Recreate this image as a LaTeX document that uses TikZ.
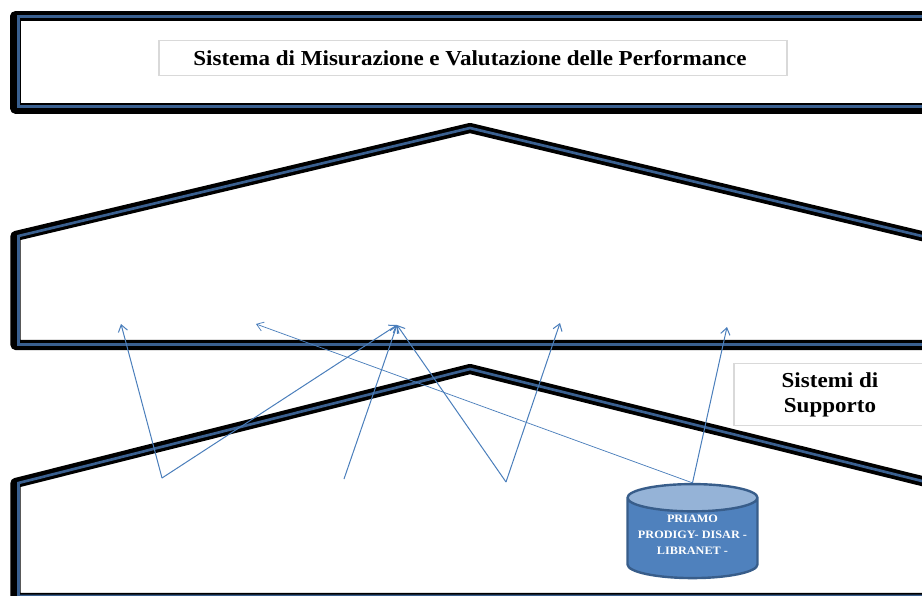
\documentclass[tikz,border=0pt]{standalone}
\usepackage{fontspec}
\setmainfont{Liberation Serif}
\newfontfamily\labelfont[FakeStretch=1.08]{Liberation Serif}
\usetikzlibrary{shapes.geometric,positioning,arrows.meta}
\definecolor{framemid}{HTML}{3A6090}
\definecolor{linkblue}{HTML}{4A7EBB}
\definecolor{dbfill}{HTML}{4F81BD}
\definecolor{dbtop}{HTML}{95B3D7}
\definecolor{dbedge}{HTML}{385D8A}
\definecolor{boxedge}{HTML}{D9D9D9}
\tikzstyle{frameout}=[draw=black,line width=7.6pt,line join=round]
\tikzstyle{framein}=[draw=framemid,line width=2pt,line join=miter]
\tikzstyle{titlebox}=[draw=boxedge,fill=white,line width=.9pt,inner sep=0pt,
  font=\labelfont\bfseries\fontsize{16pt}{18.75pt}\selectfont,align=center]
\tikzstyle{link}=[->,linkblue,line width=.75pt]
\tikzstyle{store}=[draw=dbedge,line width=1.8pt,cylinder,shape border rotate=90,
  aspect=.25,cylinder uses custom fill,cylinder body fill=dbfill,cylinder end fill=dbtop,
  minimum width=97.5pt,minimum height=70.5pt,inner sep=0pt,text=white,align=center,
  font=\labelfont\bfseries\fontsize{8.5pt}{12pt}\selectfont]

\begin{document}
\begin{tikzpicture}[x=.75pt,y=-.75pt,>={Straight Barb[length=5pt,width=7pt]}]
  \useasboundingbox (0,0) rectangle (922,596);
  \clip (0,0) rectangle (922,596);

  % the three frames, open on the right
  \draw[frameout] (930,16) -- (15.5,16) -- (15.5,108.5) -- (930,108.5);
  \draw[frameout] (930,238) -- (470,128) -- (15.5,236) -- (15.5,345) -- (930,345);
  \draw[frameout] (930,483) -- (470,369) -- (15.5,483) -- (15.5,598) -- (930,598);
  \draw[framein] (930,16.3) -- (18.5,16.3) -- (18.5,106.5) -- (930,106.5);
  \draw[framein] (930,238) -- (470,128) -- (18.5,236) -- (18.5,344.5) -- (930,344.5);
  \draw[framein] (930,483) -- (470,369) -- (18.5,483) -- (18.5,596) -- (930,596);

  \node[titlebox,minimum width=471pt,minimum height=26pt] (title) at (473,58)
    {Sistema di Misurazione e Valutazione delle Performance\hspace*{4.5pt}};
  \node[titlebox,minimum width=144pt,minimum height=47pt] (support) at (830,394.5)
    {Sistemi di\\Supporto};
  \node[store] (db) at (692.5,538.5) {PRIAMO\\PRODIGY- DISAR -\\LIBRANET -\\[-6.8pt]\mbox{}};

  \coordinate (a1) at (162,478);
  \coordinate (a2) at (344,479);
  \coordinate (a3) at (506,482);
  \coordinate (t1) at (121,324);
  \coordinate (t2) at (256,324);
  \coordinate (t3) at (397,325);
  \coordinate (t4) at (560,323);
  \coordinate (t5) at (727,327);

  \draw[link] (a1) -- (t1);
  \draw[link] (a1) -- (t3);
  \draw[link] (a2) -- (t3);
  \draw[link] (a3) -- (t3);
  \draw[link] (a3) -- (t4);
  \draw[link,line width=.55pt] (db.north) -- (t2);
  \draw[link] (db.north) -- (t5);
\end{tikzpicture}
\end{document}
